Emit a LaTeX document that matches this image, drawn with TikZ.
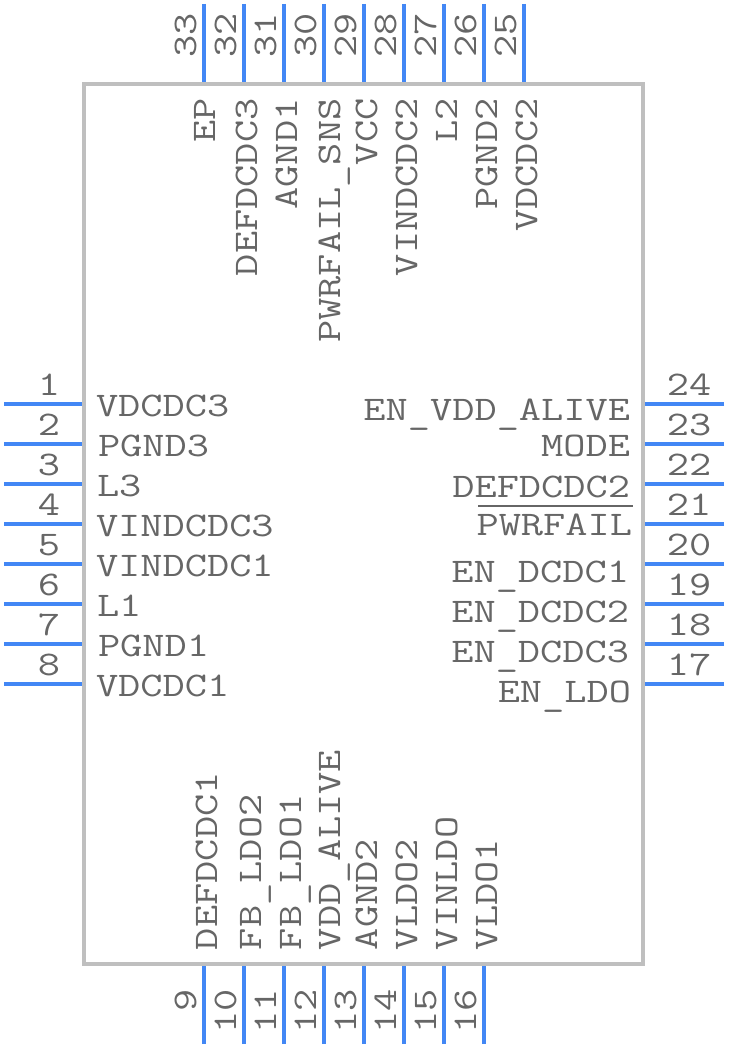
\documentclass[tikz,border=0pt]{standalone}
\usepackage{fontspec}
\setmonofont[FakeStretch=1.25]{Latin Modern Mono}
\definecolor{pincol}{HTML}{4287F5}
\definecolor{bodycol}{HTML}{BFBFBF}
\definecolor{txtcol}{HTML}{666666}
\newcommand{\us}{\raisebox{-3.5pt}{\_}}
\tikzset{
 x=1pt,y=-1pt,
 pinline/.style={draw=pincol,line width=4pt},
 body/.style={draw=bodycol,line width=4pt},
 lbl/.style={inner sep=0pt,outer sep=0pt,text=txtcol,font=\ttfamily\fontsize{34.5}{34.5}\selectfont},
 vlbl/.style={lbl,rotate=90},
}
\begin{document}
\begin{tikzpicture}
\useasboundingbox (0,0) rectangle (728,1048);
\draw[body] (84,84) rectangle (643,964);
% left pins and labels
\foreach \n/\t/\y/\bx in {1/VDCDC3/404/96,2/PGND3/444/98,3/L3/484/97,4/VINDCDC3/524/96,5/VINDCDC1/564/96,6/L1/604/97,7/PGND1/644/98,8/VDCDC1/684/96}{
  \coordinate (p\n a) at (4,\y);
  \coordinate (p\n b) at (82,\y);
  \draw[pinline] (p\n a) -- (p\n b);
  \node[lbl,anchor=base] (n\n) at (49,\y-9) {\n};
  \node[lbl,anchor=base west] (t\n) at (\bx,\y+12.5) {\t};
}
% right pins and labels
\foreach \n/\t/\y/\by/\ex in {24/EN\us VDD\us ALIVE/404/420/630,23/MODE/444/456/630,22/DEFDCDC2/484/497/630,21/PWRFAIL/524/535/632,20/EN\us DCDC1/564/582/629,19/EN\us DCDC2/604/622/629,18/EN\us DCDC3/644/662/629,17/EN\us LDO/684/702/631}{
  \coordinate (p\n a) at (724,\y);
  \coordinate (p\n b) at (645,\y);
  \draw[pinline] (p\n a) -- (p\n b);
  \node[lbl,anchor=base] (n\n) at (689,\y-9) {\n};
  \node[lbl,anchor=base east] (t\n) at (\ex,\by) {\t};
}
\coordinate (ola) at (478,506);
\coordinate (olb) at (633,506);
\draw[draw=txtcol,line width=1.6pt] (ola) -- (olb);
% top pins and labels
\foreach \n/\t/\x/\bl in {33/EP/204/215,32/DEFDCDC3/244/257,31/AGND1/284/297,30/PWRFAIL\us SNS/324/340,29/VCC/364/377,28/VINDCDC2/404/417,27/L2/444/457,26/PGND2/484/497,25/VDCDC2/524/537}{
  \coordinate (p\n a) at (\x,4);
  \coordinate (p\n b) at (\x,82);
  \draw[pinline] (p\n a) -- (p\n b);
  \node[vlbl,anchor=base west] (n\n) at (\x-8,58) {\n};
  \node[vlbl,anchor=base east] (t\n) at (\bl,98.5) {\t};
}
% bottom pins and labels
\foreach \n/\t/\x/\bl in {9/DEFDCDC1/204/217,10/FB\us LDO2/244/261,11/FB\us LDO1/284/301,12/VDD\us ALIVE/324/340,13/AGND2/364/377,14/VLDO2/404/417,15/VINLDO/444/457,16/VLDO1/484/497}{
  \coordinate (p\n a) at (\x,1044);
  \coordinate (p\n b) at (\x,966);
  \draw[pinline] (p\n a) -- (p\n b);
  \node[vlbl,anchor=base east] (n\n) at (\x-8,989) {\n};
  \node[vlbl,anchor=base west] (t\n) at (\bl,950) {\t};
}
\end{tikzpicture}
\end{document}
